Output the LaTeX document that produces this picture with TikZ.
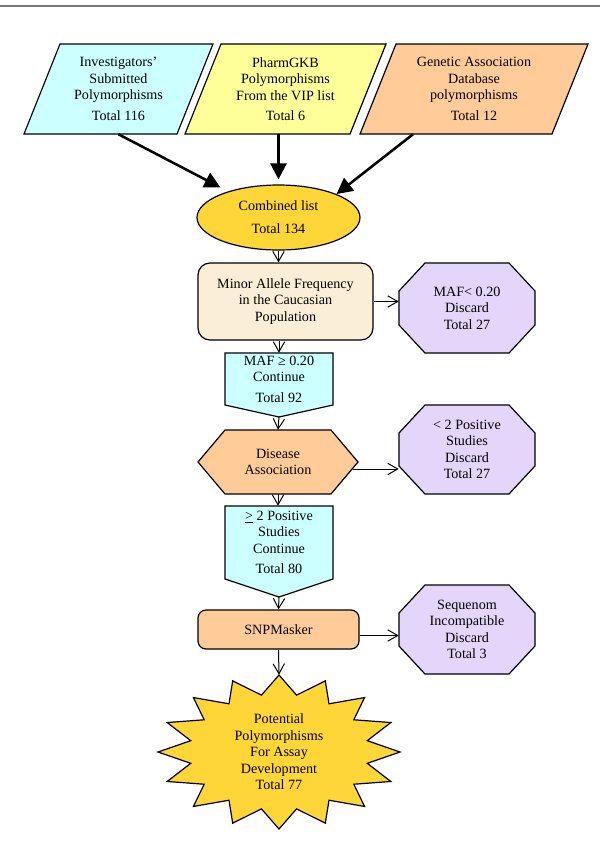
\documentclass[tikz,border=0pt]{standalone}
\usepackage{fontspec}
\setmainfont{Liberation Serif}
\usetikzlibrary{shapes.geometric,arrows.meta}

\definecolor{paleCyan}{RGB}{204,255,255}
\definecolor{paleYellow}{RGB}{255,255,153}
\definecolor{paleOrange}{RGB}{255,204,153}
\definecolor{gold}{RGB}{255,214,56}
\definecolor{beige}{RGB}{250,238,214}
\definecolor{lavender}{RGB}{228,214,251}
\definecolor{lavenderLine}{RGB}{238,228,255}
\definecolor{ruleGray}{RGB}{120,120,120}

\begin{document}
\begin{tikzpicture}[x=0.75pt,y=0.75pt,yscale=-1,xscale=1,
  font=\fontsize{10.6}{12.4}\selectfont,
  outline/.style={draw=black,line width=0.9pt},
  txt/.style={inner sep=0pt,align=center},
  roundbox/.style={outline,rectangle,rounded corners=8pt,inner sep=0pt,align=center},
  discard/.style={outline,fill=lavender,
    path picture={\foreach \s in {0,3,...,96}
      \draw[lavenderLine,line width=0.6pt] ([yshift=-\s*0.75pt]path picture bounding box.north west) -- ([yshift=-\s*0.75pt]path picture bounding box.north east);}},
  bigflow/.style={line width=1.9pt,-{Triangle[length=12pt,width=12pt]}},
  flow/.style={line width=0.75pt,-{Straight Barb[length=7.5pt,width=8.5pt]}}]
\useasboundingbox (0,0) rectangle (600,850);

%Shape: Line [top rule]
\draw [ruleGray,line width=1.9pt] (0,6) -- (600,6);

%Shape: Parallelogram
\draw [outline,fill=paleCyan] (60,44) -- (213,44) -- (177,134) -- (24,134) -- cycle;
%Shape: Parallelogram
\draw [outline,fill=paleYellow] (221,44) -- (386,44) -- (350,134) -- (185,134) -- cycle;
%Shape: Parallelogram
\draw [outline,fill=paleOrange] (396,44) -- (588,44) -- (552,134) -- (360,134) -- cycle;

% Text Node
\node [txt,minimum height=67.5pt] (inv) at (118.5,89) {Investigators’\\Submitted\\Polymorphisms\\[3pt]Total 116};
% Text Node
\node [txt,minimum height=67.5pt] (pgkb) at (285.5,89) {PharmGKB\\Polymorphisms\\From the VIP list\\[3pt]Total 6};
% Text Node
\node [txt,minimum height=67.5pt] (gad) at (474,89) {Genetic Association\\Database\\polymorphisms\\[3pt]Total 12};

%Shape: Ellipse
\node [outline,ellipse,fill=gold,minimum width=122.25pt,minimum height=48.75pt,inner sep=0pt,align=center] (comb) at (278.5,217.5) {Combined list\\[5pt]Total 134};

\draw [bigflow] (inv.south) -- ([yshift=-5pt]comb.north west);
\draw [bigflow,shorten >=3.75pt] (pgkb.south -| comb.north) -- (comb.north);
\draw [bigflow] ([xshift=-45.75pt]gad.south) -- (comb.north east);

%Shape: Rounded Rectangle
\node [roundbox,fill=beige,rounded corners=9pt,minimum width=131.25pt,minimum height=57.75pt] (maf) at (285.5,301.5) {Minor Allele Frequency\\in the Caucasian\\Population};

%Shape: Octagon
\draw [discard] (425,263) -- (509,263) -- (535,291) -- (535,325) -- (509,353) -- (425,353) -- (399,325) -- (399,291) -- cycle;
% Text Node
\node [txt,minimum width=102pt,minimum height=67.5pt] (mafout) at (467,308) {MAF\textless{} 0.20\\Discard\\Total 27};

%Shape: Pentagon
\draw [outline,fill=paleCyan] (225,353) -- (333,353) -- (333,405) -- (279,417) -- (225,405) -- cycle;
\coordinate (tip1) at (279,417);
% Text Node
\node [txt,minimum width=81pt,minimum height=39pt] (cont1) at (279,379) {MAF ≥ 0.20\\Continue\\[3pt]Total 92};

%Shape: Hexagon
\draw [outline,fill=paleOrange] (198,462) -- (225,430) -- (331,430) -- (358,462) -- (331,494) -- (225,494) -- cycle;
% Text Node
\node [txt,minimum width=120pt,minimum height=48pt] (dis) at (278,462) {Disease\\Association};

%Shape: Octagon
\draw [discard] (425,405) -- (509,405) -- (535,433) -- (535,466) -- (509,494) -- (425,494) -- (399,466) -- (399,433) -- cycle;
% Text Node
\node [txt,minimum width=102pt,minimum height=66.75pt] (studout) at (467,449.5) {\textless{} 2 Positive\\Studies\\Discard\\Total 27};

%Shape: Pentagon
\draw [outline,fill=paleCyan] (225,506) -- (333,506) -- (333,579) -- (279,597) -- (225,579) -- cycle;
\coordinate (tip2) at (279,597);
% Text Node
\node [txt,minimum width=81pt,minimum height=54.75pt] (cont2) at (279,542.5) {\underline{\textgreater} 2 Positive\\Studies\\Continue\\[3pt]Total 80};

%Shape: Rounded Rectangle
\node [roundbox,fill=paleOrange,rounded corners=6pt,minimum width=120.75pt,minimum height=29.25pt] (snp) at (278.5,629.5) {SNPMasker};

%Shape: Octagon
\draw [discard] (425,585) -- (509,585) -- (535,613) -- (535,646) -- (509,674) -- (425,674) -- (399,646) -- (399,613) -- cycle;
% Text Node
\node [txt,minimum width=102pt,minimum height=66.75pt] (seqout) at (467,629.5) {Sequenom\\Incompatible\\Discard\\Total 3};

%Shape: Star
\draw [outline,fill=gold] plot [samples at={0,1,...,31},variable=\k]
  ({279+ifthenelse(mod(\k,2)==0,121,90)*sin(\k*11.25)},{752-ifthenelse(mod(\k,2)==0,77,58)*cos(\k*11.25)}) -- cycle;
% Text Node
\node [txt,minimum height=115.5pt] (pot) at (279,752) {Potential\\Polymorphisms\\For Assay\\Development\\Total 77};

\draw [flow] (comb.south) -- (comb.south |- maf.north);
\draw [flow] (maf.east) -- (maf.east -| mafout.west);
\draw [flow] (cont1.north |- maf.south) -- (cont1.north);
\draw [flow] (tip1) -- (dis.north);
\draw [flow] ([xshift=-4pt,yshift=5.25pt]dis.east) -- ([yshift=5.25pt]dis.east -| studout.west);
\draw [flow] (dis.south) -- (dis.south |- cont2.north);
\draw [flow] (tip2) -- (snp.north);
\draw [flow] ([yshift=4.5pt]snp.east) -- ([yshift=4.5pt]snp.east -| seqout.west);
\draw [flow] (snp.south) -- (pot.north);

\end{tikzpicture}
\end{document}
